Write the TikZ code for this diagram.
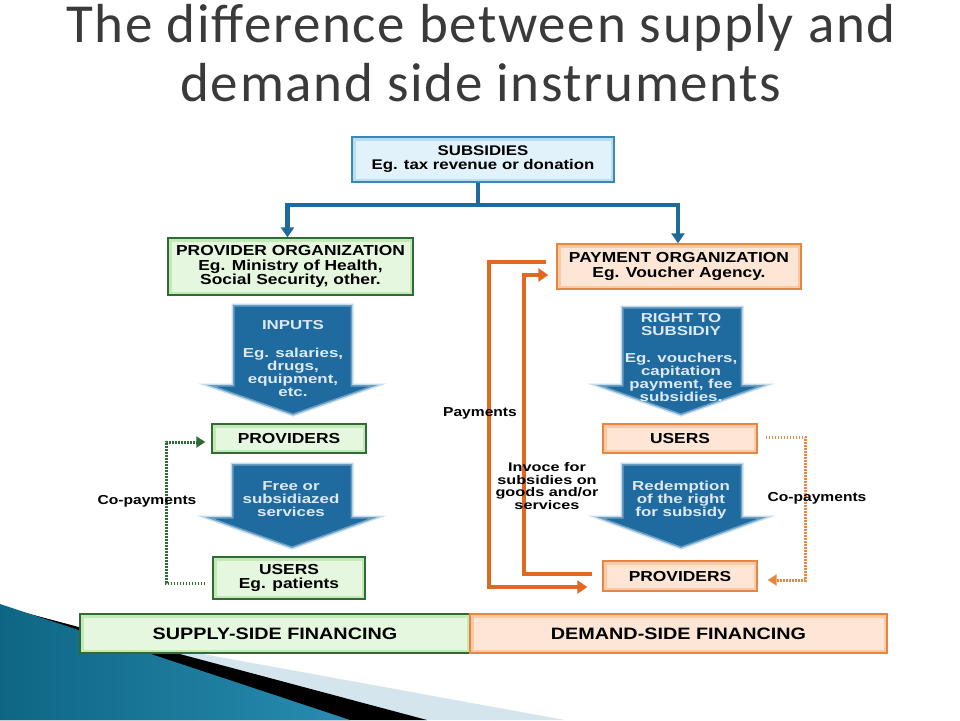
\documentclass[tikz,border=0pt]{standalone}
\usepackage{fontspec}
\setmainfont{Liberation Sans}
\newfontfamily\bxf{Liberation Sans}[FakeStretch=1.2]
\newfontfamily\bxw{Liberation Sans}[FakeStretch=1.3]
\newfontfamily\titlefont{Carlito}[LetterSpace=3]
\usetikzlibrary{arrows.meta}
\definecolor{bline}{HTML}{1E6A9A}
\definecolor{arrowblue}{HTML}{1F6A9F}
\definecolor{arrowglow}{HTML}{9CC3DE}
\definecolor{arrowtext}{HTML}{DDE9F4}
\definecolor{gfill}{HTML}{E6F7DF}
\definecolor{gmid}{HTML}{C4E8B6}
\definecolor{gdraw}{HTML}{2F6B35}
\definecolor{ofill}{HTML}{FDE6D6}
\definecolor{omid}{HTML}{F9C9A8}
\definecolor{odraw}{HTML}{E8863F}
\definecolor{bfill}{HTML}{E2F2FA}
\definecolor{bmid}{HTML}{B9DDF0}
\definecolor{bdraw}{HTML}{3A87B8}
\definecolor{oline}{HTML}{E0691F}
\definecolor{titlegray}{HTML}{3A3A3A}
\definecolor{decolight}{HTML}{D5E5EE}
\newcommand\fsz[2]{\fontsize{#1}{#2}\selectfont}
\tikzset{
  box/.style={draw, line width=1.4pt, inner sep=0pt, align=center,
    font=\bxf\bfseries\fsz{14.5}{14.5}, text=black},
  gbox/.style={box, fill=gfill, draw=gdraw,
    path picture={\draw[gmid, line width=7pt] (path picture bounding box.south west) rectangle (path picture bounding box.north east);}},
  obox/.style={box, fill=ofill, draw=odraw,
    path picture={\draw[omid, line width=7pt] (path picture bounding box.south west) rectangle (path picture bounding box.north east);}},
  bbox/.style={box, fill=bfill, draw=bdraw,
    path picture={\draw[bmid, line width=7pt] (path picture bounding box.south west) rectangle (path picture bounding box.north east);}},
  bigarrow/.style={fill=arrowblue, draw=arrowglow, line width=3pt, draw opacity=0.6},
  atext/.style={align=center, text=arrowtext, inner sep=0pt, font=\bxw\bfseries\fsz{13}{13}},
  lbl/.style={align=center, text=black, inner sep=0pt, font=\bxw\bfseries\fsz{12.5}{12.5}},
  blueconn/.style={bline, line width=4.5pt},
  orangeconn/.style={oline, line width=4pt},
  gdotted/.style={gdraw, line width=3pt, dash pattern=on 1.6pt off 1.4pt},
  odotted/.style={odraw, line width=3pt, dash pattern=on 1.6pt off 1.4pt},
  tip/.style={-{Triangle[width=13pt,length=10pt]}},
  dtip/.style={-{Triangle[width=11pt,length=9pt]}}
}
\begin{document}
\begin{tikzpicture}[x=1pt,y=-1pt]
\useasboundingbox (0,0) rectangle (960,720);
\fill[white] (0,0) rectangle (960,720);

% background decoration
\fill[decolight] (0,617) -- (565,720) -- (0,720) -- cycle;
\fill[black] (0,606) -- (427,720) -- (0,720) -- cycle;
\shade[left color={rgb,255:red,14;green,102;blue,132}, middle color={rgb,255:red,88;green,182;blue,214}, right color={rgb,255:red,40;green,140;blue,176}]
  (0,604) -- (350,720) -- (0,720) -- cycle;

% title
\node[anchor=base, text=titlegray, font=\titlefont\fsz{55}{55}] (t1) at (481,42) {The difference between supply and};
\node[anchor=base, text=titlegray, font=\titlefont\fsz{55}{55}] (t2) at (481,101) {demand side instruments};

% boxes
\node[bbox, minimum width=262pt, minimum height=45pt, font=\bxf\bfseries\fsz{14}{14}] (subs) at (483,159.5) {SUBSIDIES\\Eg. tax revenue or donation};
\node[gbox, minimum width=245pt, minimum height=57pt] (porg) at (290.5,266.5) {PROVIDER ORGANIZATION\\Eg. Ministry of Health,\\Social Security, other.};
\node[obox, minimum width=244pt, minimum height=45pt] (payorg) at (679,266.5) {PAYMENT ORGANIZATION\\Eg. Voucher Agency.};
\node[gbox, minimum width=154pt, minimum height=29pt] (provL) at (289,438.5) {PROVIDERS};
\node[gbox, minimum width=152pt, minimum height=42pt] (usersL) at (289,578) {USERS\\Eg. patients};
\node[obox, minimum width=154pt, minimum height=29pt] (usersR) at (680,438.5) {USERS};
\node[obox, minimum width=154pt, minimum height=30pt] (provR) at (680,576) {PROVIDERS};
\node[gbox, minimum width=390pt, minimum height=39pt, font=\bxf\bfseries\fsz{16.5}{16.5}] (supply) at (275,633.5) {SUPPLY-SIDE FINANCING};
\node[obox, minimum width=417pt, minimum height=39pt, font=\bxf\bfseries\fsz{16.5}{16.5}] (demand) at (678.5,633.5) {DEMAND-SIDE FINANCING};

% big arrows
\path[bigarrow] (233,305) -- (352,305) -- (352,385) -- (378,385) -- (293,415) -- (207,385) -- (233,385) -- cycle;
\path[bigarrow] (232,464) -- (352,464) -- (352,517) -- (378,517) -- (292,548) -- (205,517) -- (232,517) -- cycle;
\path[bigarrow] (622,307) -- (742,307) -- (742,385) -- (766,385) -- (681,415) -- (596,385) -- (622,385) -- cycle;
\path[bigarrow] (622,464) -- (742,464) -- (742,517) -- (767,517) -- (681,548) -- (596,517) -- (622,517) -- cycle;

\node[atext] (a1h) at (293,325) {INPUTS};
\node[atext] (a1b) at (293,372) {Eg. salaries,\\drugs,\\equipment,\\etc.};
\node[atext] (a2) at (291,499) {Free or\\subsidiazed\\services};
\node[atext] (a3h) at (681,325) {RIGHT TO\\SUBSIDIY};
\node[atext] (a3b) at (681,377) {Eg. vouchers,\\capitation\\payment, fee\\subsidies.};
\node[atext] (a4) at (681,500) {Redemption\\of the right\\for subsidy};

% blue connector from subsidies
\coordinate (bj) at (478,205);
\draw[blueconn] ([xshift=-5pt]subs.south) -- (bj);
\draw[blueconn, tip] (bj) -| ([xshift=-3pt]porg.north);
\draw[blueconn, tip] (bj) -| ([xshift=-1pt]payorg.north);

% orange connectors
\draw[orangeconn, tip] ([xshift=-10pt,yshift=4.5pt]payorg.west) -| ([xshift=-113pt,yshift=-11pt]provR.west) -- ([xshift=-15pt,yshift=-11pt]provR.west);
\draw[orangeconn, tip] ([xshift=-10pt,yshift=2pt]provR.west) -| ([xshift=-32pt,yshift=-8.5pt]payorg.west) -- ([xshift=-8pt,yshift=-8.5pt]payorg.west);

% co-payment dotted connectors
\draw[gdotted, dtip] ([xshift=-7pt,yshift=-5pt]usersL.west) -| ([xshift=-45pt,yshift=-3.5pt]provL.west) -- ([xshift=-6pt,yshift=-3.5pt]provL.west);
\draw[odotted, dtip] ([xshift=8pt,yshift=1.5pt]usersR.east) -| ([xshift=48pt,yshift=-4pt]provR.east) -- ([xshift=10pt,yshift=-4pt]provR.east);

% labels
\node[lbl, font=\bxf\bfseries\fsz{13}{13}] (cpl) at (147,501) {Co-payments};
\node[lbl, font=\bxf\bfseries\fsz{13}{13}] (cpr) at (817,498) {Co-payments};
\node[lbl, font=\bxf\bfseries\fsz{13}{13}] (pay) at (480,413) {Payments};
\node[lbl] (inv) at (547,486) {Invoce for\\subsidies on\\goods and/or\\services};
\end{tikzpicture}
\end{document}
